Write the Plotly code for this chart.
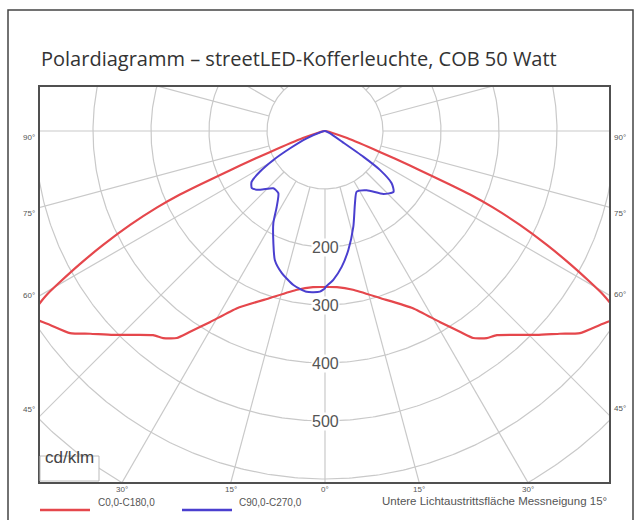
import numpy as np
import plotly.graph_objects as go

# ---------------- data (cd/klm) ----------------
# C0/C180 plane (symmetric), gamma in degrees from nadir
red_gamma = [0, 4.4, 10, 18.2, 26.4, 31, 33.9, 35.6, 38, 40.1, 46.1, 49.2, 51.6, 54.8,
             56.5, 57.5, 58.3, 58.9, 59.54, 60.32, 61.5, 62.82, 64.26, 65.52, 66.35, 66.83,
             67.27, 67.9, 69.1, 72.35, 76, 80, 90]
red_I = [269, 270, 278, 303, 341, 384, 417, 439, 453, 460, 507, 535, 561, 580,
         592, 598, 588, 574, 556, 526, 481, 430, 373, 318, 273, 234,
         196, 158, 101, 40, 12, 3, 0]

# C90 plane (right half)
blue_c90_gamma = [0, 3.2, 7.0, 11.1, 16.5, 22.5, 27.6, 35.2, 42.8, 48.4, 51.9, 54.7, 56.1, 57.5, 65, 90]
blue_c90_I = [270, 257, 236, 209, 172, 135, 118, 125, 148, 158, 146, 116, 80, 38, 8, 0]
# C270 plane (left half)
blue_c270_gamma = [0, 1.8, 6.5, 11.6, 16.9, 21.2, 24.7, 29.3, 32.5, 36.9, 42.1, 47.8, 52.0, 55.3,
                   58.0, 60.7, 63.7, 68.2, 75, 90]
blue_c270_I = [271, 277, 279, 271, 256, 239, 213, 182, 155, 134, 133, 151, 160, 154,
               132, 102, 67, 34, 8, 0]

ring_values = [100, 200, 300, 400, 500, 600, 700, 800]
ring_labels = ["200", "300", "400", "500"]
side_angles = [90, 75, 60, 45]
bottom_angles = [-30, -15, 0, 15, 30]

title = "Polardiagramm – streetLED-Kofferleuchte, COB 50 Watt"
legend_names = ["C0,0-C180,0", "C90,0-C270,0"]
footer = "Untere Lichtaustrittsfläche Messneigung 15°"
unit = "cd/klm"

RED = "#e5474c"
BLUE = "#4a3fcf"
GRID = "#c9c9c9"

# ---------------- layout geometry ----------------
W, H = 635, 520
L, R, T, B = 40, 26, 87, 38
CX, CY = 325, 131          # pixel position of the luminaire centre
S = 0.58                   # pixels per cd/klm
x_min, x_max = (L - CX) / S, (W - R - CX) / S
y_min, y_max = (CY - (H - B)) / S, (CY - T) / S


def px(x):
    return (x - L) / (W - L - R)


def py(y):
    return 1 - (y - T) / (H - T - B)


def to_xy(gam, inten, side):
    g = np.radians(np.asarray(gam, float))
    i = np.asarray(inten, float)
    return side * i * np.sin(g), -i * np.cos(g)


fig = go.Figure()

# grid circles
t = np.linspace(0, 2 * np.pi, 721)
for r in ring_values:
    fig.add_trace(go.Scatter(x=r * np.sin(t), y=r * np.cos(t), mode="lines",
                             line=dict(color=GRID, width=1.2), hoverinfo="skip", showlegend=False))
# radial grid lines every 15 degrees, starting at 100
for k in range(24):
    a = np.radians(k * 15)
    fig.add_trace(go.Scatter(x=[100 * np.sin(a), 1200 * np.sin(a)], y=[-100 * np.cos(a), -1200 * np.cos(a)],
                             mode="lines", line=dict(color=GRID, width=1.2), hoverinfo="skip", showlegend=False))

# red curve C0-C180
xl, yl = to_xy(red_gamma[::-1], red_I[::-1], -1)
xr, yr = to_xy(red_gamma[1:], red_I[1:], 1)
fig.add_trace(go.Scatter(x=np.concatenate([xl, xr]), y=np.concatenate([yl, yr]), mode="lines",
                         line=dict(color=RED, width=2.2, shape="spline", smoothing=0.5),
                         name=legend_names[0], showlegend=False))
# blue curve C90-C270
xl, yl = to_xy(blue_c270_gamma[::-1], blue_c270_I[::-1], -1)
xr, yr = to_xy(blue_c90_gamma, blue_c90_I, 1)
fig.add_trace(go.Scatter(x=np.concatenate([xl, xr]), y=np.concatenate([yl, yr]), mode="lines",
                         line=dict(color=BLUE, width=2.0, shape="spline", smoothing=0.6),
                         name=legend_names[1], showlegend=False))

SMALL = dict(family="Liberation Sans, Arial", size=8, color="#555")
ann = []
# ring labels
for lab in ring_labels:
    ann.append(dict(x=0, y=-float(lab), xref="x", yref="y", text=lab, showarrow=False,
                    font=dict(family="Liberation Sans, Arial", size=16, color="#555"),
                    bgcolor="white", borderpad=0))
# side angle labels (where the radial lines meet the frame)
for a in side_angles:
    inv_tan = 0.0 if a == 90 else 1 / np.tan(np.radians(a))
    yl_px = CY + (CX - L) * inv_tan
    yr_px = CY + (W - R - CX) * inv_tan
    ann.append(dict(x=px(L - 3), y=py(yl_px), xref="paper", yref="paper", text=f"{a}°",
                    showarrow=False, xanchor="right", font=SMALL))
    ann.append(dict(x=px(W - R + 3), y=py(yr_px), xref="paper", yref="paper", text=f"{a}°",
                    showarrow=False, xanchor="left", font=SMALL))
# bottom angle labels
for a in bottom_angles:
    xv = -y_min * np.tan(np.radians(a))
    ann.append(dict(x=xv, y=py(H - B + 7), xref="x", yref="paper", text=f"{abs(a)}°", showarrow=False,
                    yanchor="middle", borderpad=0, font=SMALL))
# title
ann.append(dict(x=px(39), y=py(43), xref="paper", yref="paper", text=title, showarrow=False,
                xanchor="left", font=dict(family="Open Sans", size=20, color="#333")))
# unit box text
ann.append(dict(x=px(43), y=py(469), xref="paper", yref="paper", text=unit, showarrow=False,
                xanchor="left", font=dict(family="Liberation Sans, Arial", size=17, color="#444")))
# legend texts
ann.append(dict(x=px(96), y=py(510), xref="paper", yref="paper", text=legend_names[0], showarrow=False,
                xanchor="left", font=dict(family="Liberation Sans, Arial", size=10, color="#555")))
ann.append(dict(x=px(237), y=py(510), xref="paper", yref="paper", text=legend_names[1], showarrow=False,
                xanchor="left", font=dict(family="Liberation Sans, Arial", size=10, color="#555")))
ann.append(dict(x=px(608), y=py(508), xref="paper", yref="paper", text=footer, showarrow=False,
                xanchor="right", borderpad=0, font=dict(family="Liberation Sans, Arial", size=11.5, color="#555")))

shapes = [
    # outer frame
    dict(type="rect", xref="paper", yref="paper", x0=px(8), x1=px(633), y0=py(530), y1=py(10),
         line=dict(color="#444", width=1.5), layer="below"),
    # unit box
    dict(type="rect", xref="paper", yref="paper", x0=px(40), x1=px(99), y0=py(481), y1=py(456),
         line=dict(color="#bbb", width=1), fillcolor="white", layer="above"),
    # legend lines
    dict(type="line", xref="paper", yref="paper", x0=px(40), x1=px(90), y0=py(510), y1=py(510),
         line=dict(color=RED, width=2.5)),
    dict(type="line", xref="paper", yref="paper", x0=px(182), x1=px(232), y0=py(510), y1=py(510),
         line=dict(color=BLUE, width=2.5)),
]

axis_common = dict(showgrid=False, zeroline=False, showticklabels=False, ticks="",
                   showline=True, mirror=True, linecolor="#505050", linewidth=2, fixedrange=True)
fig.update_layout(
    width=W, height=H, margin=dict(l=L, r=R, t=T, b=B),
    paper_bgcolor="white", plot_bgcolor="white",
    xaxis=dict(range=[x_min, x_max], **axis_common),
    yaxis=dict(range=[y_min, y_max], **axis_common),
    annotations=ann, shapes=shapes, hovermode=False,
)
fig.write_html("out.html", config={"displayModeBar": False},
               post_script="document.body.style.margin='0';")
